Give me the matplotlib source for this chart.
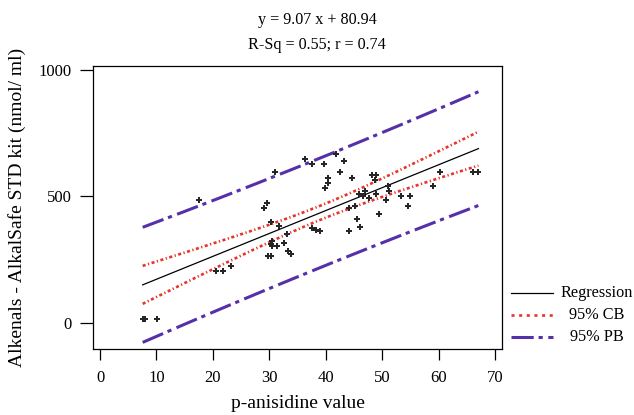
import numpy as np
import matplotlib
matplotlib.use("Agg")
import matplotlib.pyplot as plt
from matplotlib.lines import Line2D

plt.rcParams['font.family'] = ['Liberation Serif', 'DejaVu Serif']
plt.rcParams['lines.scale_dashes'] = False

# Data
p_anisidine = [7.56, 8.02, 10.14, 17.52, 20.53, 21.72, 23.13, 29.03, 29.50, 30.21,
               30.92, 29.73, 30.21, 30.44, 30.21, 30.44, 31.38, 31.63, 32.57, 33.04,
               33.27, 33.75, 36.34, 37.52, 37.52, 38.23, 38.94, 39.65, 41.77, 39.88,
               40.35, 40.35, 42.48, 43.19, 44.60, 44.12, 44.12, 45.08, 45.54, 46.02,
               45.79, 46.50, 46.96, 47.66, 48.14, 48.85, 48.62, 48.85, 49.33, 50.97,
               51.20, 50.74, 53.33, 54.99, 54.51, 58.99, 60.18, 66.07, 67.03]
alkenals = [13, 13, 13, 484, 204, 204, 225, 452, 473, 400,
            595, 262, 262, 325, 310, 304, 304, 384, 315, 352,
            283, 273, 648, 627, 373, 368, 362, 627, 669, 532,
            553, 574, 595, 638, 574, 362, 452, 463, 410, 378,
            511, 500, 521, 495, 585, 585, 563, 511, 431, 542,
            521, 484, 500, 500, 463, 542, 595, 595, 595]

slope = 9.07
intercept = 80.94
t_crit = 2.002

title_lines = ["y = 9.07 x + 80.94", "R-Sq = 0.55; r = 0.74"]
x_label = "p-anisidine value"
y_label = "Alkenals - AlkalSafe STD kit (nmol/ ml)"
legend_labels = ["Regression", "95% CB", "95% PB"]
x_ticks = [0, 10, 20, 30, 40, 50, 60, 70]
y_ticks = [0, 500, 1000]

x = np.array(p_anisidine)
y = np.array(alkenals)
n = len(x)
resid = y - (intercept + slope * x)
s = np.sqrt(np.sum(resid ** 2) / (n - 2))
xm = x.mean()
sxx = np.sum((x - xm) ** 2)

xs = np.linspace(x.min(), x.max(), 200)
fit = intercept + slope * xs
se_mean = s * np.sqrt(1.0 / n + (xs - xm) ** 2 / sxx)
se_pred = s * np.sqrt(1 + 1.0 / n + (xs - xm) ** 2 / sxx)

fig = plt.figure(figsize=(6.34, 4.15), dpi=100)
ax = fig.add_axes([93 / 634, 1 - 349 / 415, (502 - 93) / 634, (349 - 66) / 415])

red = '#e5352b'
purple = '#5530a8'
cb_dash = (2.2, 1.8, 0.9, 1.8)
pb_dash = (16, 3.5, 3, 4)

ax.plot(xs, fit, color='black', lw=0.9)
for sign in (1, -1):
    ax.plot(xs, fit + sign * t_crit * se_mean, color=red, lw=1.9, dashes=cb_dash)
    ax.plot(xs, fit + sign * t_crit * se_pred, color=purple, lw=2.2, dashes=pb_dash)
ax.plot(x, y, linestyle='none', marker='P', markersize=4.5, color='#262626',
        markeredgewidth=0)

ax.set_xlim(-1.24, 71.2)
ax.set_ylim(-104.5, 1016)
ax.set_xticks(x_ticks)
ax.set_yticks(y_ticks)
ax.tick_params(direction='out', width=0.9, labelsize=12)
ax.tick_params(axis='x', length=8, pad=7)
ax.tick_params(axis='y', length=9.5, pad=6)
for sp in ax.spines.values():
    sp.set_linewidth(0.9)

ax.set_xlabel(x_label, fontsize=14)
ax.set_ylabel(y_label, fontsize=14)
ax.xaxis.set_label_coords(0.5, -(403 - 349) / 283, transform=ax.transAxes)
ax.yaxis.set_label_coords(-(93 - 17) / 409, 0.5, transform=ax.transAxes)
ax.xaxis.label.set_va('center')
ax.yaxis.label.set_va('center')

cx = 0.5
fig.text(cx, 1 - 20 / 415, title_lines[0], ha='center', va='center', fontsize=11.6)
fig.text(cx, 1 - 45 / 415, title_lines[1], ha='center', va='center', fontsize=11.6)

# legend
leg_y = [293, 315, 337]
styles = [dict(color='black', lw=0.9),
          dict(color=red, lw=1.9, dashes=(2.2, 3.3)),
          dict(color=purple, lw=2.2, dashes=(16, 3.5, 3, 4))]
for yy, lab, st in zip(leg_y, legend_labels, styles):
    fy = 1 - yy / 415
    fig.add_artist(Line2D([511 / 634, 553 / 634], [fy, fy], transform=fig.transFigure, **st))
    fig.text(597 / 634, fy, lab, ha='center', va='center', fontsize=11.7)

fig.savefig('out.png', dpi=100)
